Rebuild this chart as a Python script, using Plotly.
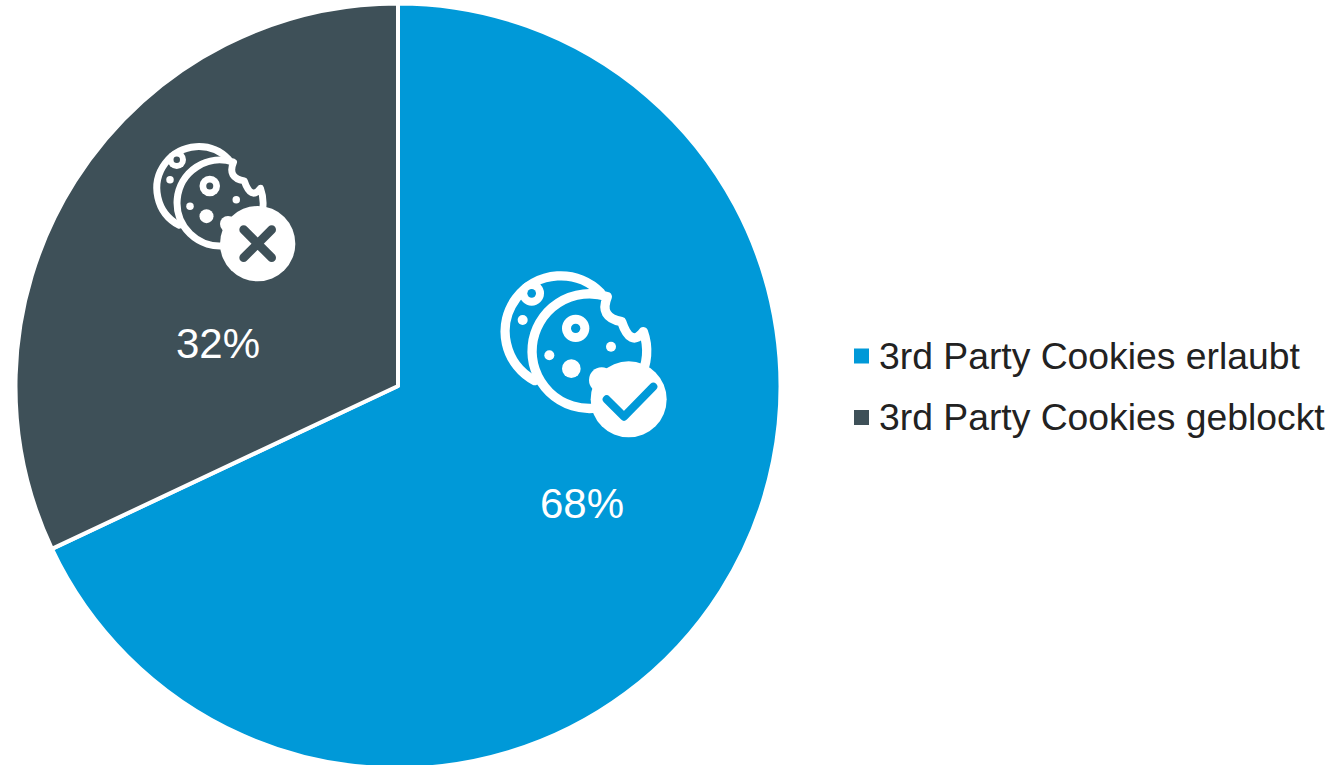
import base64
import plotly.graph_objects as go

# Survey result: share of browsers by third-party cookie handling
categories = ["3rd Party Cookies erlaubt", "3rd Party Cookies geblockt"]
shares = [68, 32]
colors = ["#0099D8", "#3E5058"]

WIDTH, HEIGHT = 1337, 771  # the pie runs slightly past the lower window edge
LABEL_FONT = "Liberation Sans, Arial, sans-serif"


def px(x):
    return x / WIDTH


def py(y):
    return 1 - y / HEIGHT


def cookies(bg):
    """Two overlapping bitten cookies, drawn in a 570-unit box."""
    w = 28
    return f"""
    <path d="M134,362 A167,167 0 1 1 332,98" fill="none" stroke="#fff" stroke-width="{w}" stroke-linecap="round"/>
    <circle cx="125" cy="100" r="37" fill="#fff"/><circle cx="125" cy="100" r="13" fill="{bg}"/>
    <circle cx="98" cy="180" r="15" fill="#fff"/>
    <path d="M352,110 A172,172 0 1 0 460,215 Q422,264 395,185 Q326,173 352,110 Z" fill="{bg}"
          stroke="#fff" stroke-width="{w}" stroke-linejoin="round"/>
    <circle cx="257" cy="205" r="41" fill="#fff"/><circle cx="257" cy="205" r="14" fill="{bg}"/>
    <circle cx="363" cy="260" r="15" fill="#fff"/>
    <circle cx="178" cy="286" r="15" fill="#fff"/>
    <circle cx="244" cy="326" r="28" fill="#fff"/>"""


def svg_uri(body, w, h):
    svg = (f'<svg xmlns="http://www.w3.org/2000/svg" width="{w * 3}" height="{h * 3}" '
           f'viewBox="0 0 {w} {h}">{body}</svg>')
    return "data:image/svg+xml;base64," + base64.b64encode(svg.encode()).decode()


def icon_image(uri, x, y, w, h):
    return dict(source=uri, xref="paper", yref="paper", x=px(x), y=py(y),
                sizex=w / WIDTH, sizey=h / HEIGHT, xanchor="left", yanchor="top",
                sizing="stretch", layer="above")


allowed_icon = cookies(colors[0]) + f"""
    <circle cx="335" cy="360" r="38" fill="#fff"/>
    <circle cx="416" cy="418" r="114" fill="#fff"/>
    <path d="M350,418 L402,470 L490,380" fill="none" stroke="{colors[0]}" stroke-width="24"
          stroke-linecap="round" stroke-linejoin="round"/>"""

blocked_icon = f'<g transform="translate(16.5,14) scale(.75)">{cookies(colors[1])}</g>' + f"""
    <circle cx="264" cy="282" r="24" fill="#fff"/>
    <circle cx="353" cy="341" r="113" fill="#fff"/>
    <path d="M311,299 L395,383 M395,299 L311,383" fill="none" stroke="{colors[1]}" stroke-width="26"
          stroke-linecap="round"/>"""

fig = go.Figure(go.Pie(
    labels=categories,
    values=shares,
    sort=False,
    direction="clockwise",
    rotation=0,
    textinfo="none",
    hoverinfo="label+percent",
    marker=dict(colors=colors, line=dict(color="#ffffff", width=4)),
    domain=dict(x=[px(15.5), px(780.5)], y=[py(768.5), py(3.5)]),
    showlegend=False,
))

annotations = []
shapes = []

# Percentage labels beneath each icon
for value, (x, y) in zip(shares, [(582, 503.5), (218, 343.5)]):
    annotations.append(dict(
        text=f"{value}%", xref="paper", yref="paper", x=px(x), y=py(y),
        xanchor="center", yanchor="middle", showarrow=False,
        font=dict(family=LABEL_FONT, size=42, color="#ffffff"),
    ))

# Legend rows: square swatch plus label
for name, color, y in zip(categories, colors, [356, 417.5]):
    shapes.append(dict(
        type="rect", xref="paper", yref="paper", line=dict(width=0), fillcolor=color,
        x0=px(854), x1=px(869), y0=py(y - 7.5), y1=py(y + 7.5),
    ))
    annotations.append(dict(
        text=name, xref="paper", yref="paper", x=px(877), y=py(y - 0.5),
        xanchor="left", yanchor="middle", showarrow=False,
        font=dict(family=LABEL_FONT, size=37.3, color="#222222"),
    ))

fig.update_layout(
    width=WIDTH,
    height=HEIGHT,
    margin=dict(l=0, r=0, t=0, b=0),
    paper_bgcolor="#ffffff",
    annotations=annotations,
    shapes=shapes,
    images=[
        icon_image(svg_uri(allowed_icon, 570, 570), 490, 260, 190, 190),
        icon_image(svg_uri(blocked_icon, 510, 480), 140, 130, 170, 160),
    ],
)

fig.write_html(
    "out.html",
    config={"displayModeBar": False},
    post_script="document.documentElement.style.overflow='hidden';",
)
